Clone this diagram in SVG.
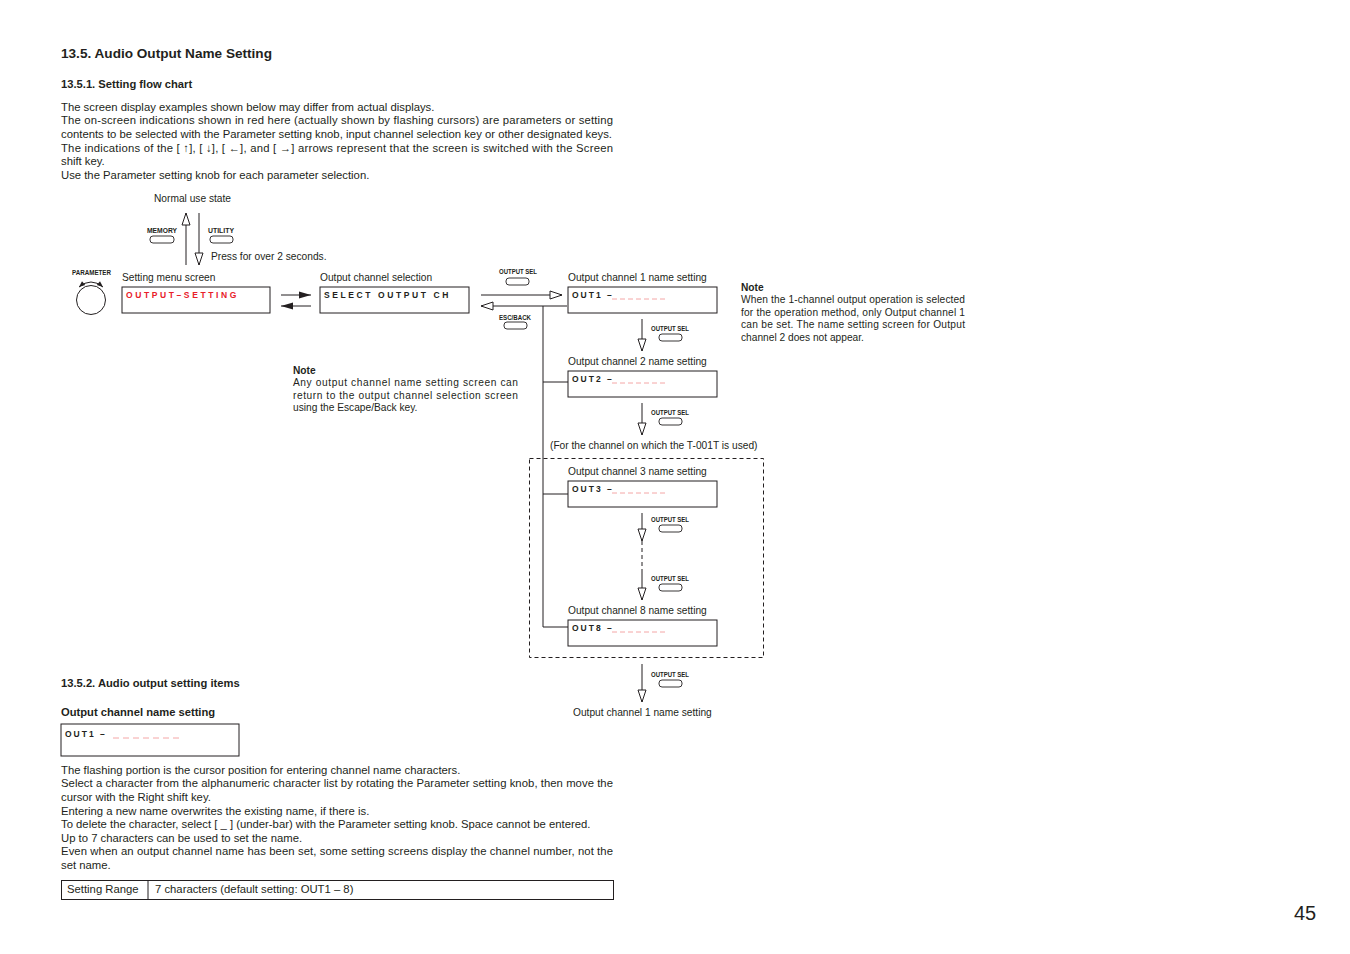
<svg xmlns="http://www.w3.org/2000/svg" width="1350" height="954" viewBox="0 0 1350 954">
<style>
text{font-family:"Liberation Sans",Arial,sans-serif;fill:#231f20}
.h1{font-size:13.6px;font-weight:bold}
.h2{font-size:11.2px;font-weight:bold}
.b{font-size:11.3px}
.s{font-size:10.2px}
.k{font-size:6.5px;font-weight:bold}
.lcd{font-size:8.5px;font-weight:bold;letter-spacing:2.6px}
.red{fill:#e8202a}
.dash{stroke:#f4a6a6;stroke-width:1;stroke-dasharray:5,3}
.box{fill:none;stroke:#231f20;stroke-width:1}
.btn{fill:#fff;stroke:#231f20;stroke-width:0.9}
.ln{fill:none;stroke:#231f20;stroke-width:1}
</style>
<defs>
<marker id="hollow" markerUnits="userSpaceOnUse" markerWidth="14" markerHeight="10" refX="12" refY="4" orient="auto" overflow="visible"><path d="M0,0 L12,4 L0,8 Z" fill="#fff" stroke="#231f20" stroke-width="1"/></marker>
<marker id="solid" markerUnits="userSpaceOnUse" markerWidth="14" markerHeight="10" refX="12" refY="3.5" orient="auto" overflow="visible"><path d="M0,0 L12,3.5 L0,7 Z" fill="#231f20"/></marker>
<marker id="small" markerUnits="userSpaceOnUse" markerWidth="8" markerHeight="6" refX="6" refY="2.5" orient="auto" overflow="visible"><path d="M0,0 L6,2.5 L0,5 Z" fill="#231f20"/></marker>
<marker id="smallS" markerUnits="userSpaceOnUse" markerWidth="8" markerHeight="6" refX="0" refY="2.5" orient="auto" overflow="visible"><path d="M6,0 L0,2.5 L6,5 Z" fill="#231f20"/></marker>
</defs>
<rect width="1350" height="954" fill="#fff"/>

<g id="header">
<text class="h1" x="61" y="58">13.5. Audio Output Name Setting</text>
<text class="h2" x="61" y="88">13.5.1. Setting flow chart</text>
<text class="b" x="61" y="111">The screen display examples shown below may differ from actual displays.</text>
<text class="b" x="61" y="124" textLength="552" lengthAdjust="spacing">The on-screen indications shown in red here (actually shown by flashing cursors) are parameters or setting</text>
<text class="b" x="61" y="138" textLength="551" lengthAdjust="spacing">contents to be selected with the Parameter setting knob, input channel selection key or other designated keys.</text>
<text class="b" x="61" y="152" textLength="552" lengthAdjust="spacing">The indications of the [ ↑], [ ↓], [ ←], and [ →] arrows represent that the screen is switched with the Screen</text>
<text class="b" x="61" y="165">shift key.</text>
<text class="b" x="61" y="179">Use the Parameter setting knob for each parameter selection.</text>
</g>

<g id="normal-state">
<text class="s" x="154" y="202">Normal use state</text>
<text class="k" x="147" y="233" textLength="30" lengthAdjust="spacingAndGlyphs">MEMORY</text>
<rect class="btn" x="150" y="236" width="24" height="7" rx="3"/>
<text class="k" x="208" y="233" textLength="26" lengthAdjust="spacingAndGlyphs">UTILITY</text>
<rect class="btn" x="210" y="236" width="23" height="7" rx="3"/>
<text class="s" x="211" y="260">Press for over 2 seconds.</text>
</g>

<g id="parameter-knob">
<text class="k" x="72" y="275" textLength="39" lengthAdjust="spacingAndGlyphs">PARAMETER</text>
<circle cx="91" cy="300" r="14.5" fill="#fff" stroke="#231f20" stroke-width="1"/>
<path class="ln" d="M79,287 Q91,277 103,287" marker-end="url(#small)" marker-start="url(#smallS)"/>
</g>

<g id="setting-menu">
<text class="s" x="122" y="281">Setting menu screen</text>
<rect class="box" x="122" y="287" width="148" height="26"/>
<text class="lcd red" x="126" y="298">OUTPUT–SETTING</text>
</g>

<g id="channel-select">
<text class="s" x="320" y="281">Output channel selection</text>
<rect class="box" x="320" y="287" width="149" height="26"/>
<text class="lcd" x="324" y="298">SELECT  OUTPUT  CH</text>
</g>

<g id="keys-mid">
<text class="k" x="499" y="274" textLength="38" lengthAdjust="spacingAndGlyphs">OUTPUT SEL</text>
<rect class="btn" x="506" y="278" width="23" height="7" rx="3"/>
<text class="k" x="499" y="320" textLength="32" lengthAdjust="spacingAndGlyphs">ESC/BACK</text>
<rect class="btn" x="504" y="322" width="23" height="7" rx="3"/>
</g>

<g id="out1">
<text class="s" x="568" y="281">Output channel 1 name setting</text>
<rect class="box" x="568" y="287" width="149" height="26"/>
<text class="lcd" x="572" y="298" style="letter-spacing:2px">OUT1 –</text>
<line class="dash" x1="612" y1="299" x2="665" y2="299"/>
</g>

<g id="out2">
<text class="s" x="568" y="365">Output channel 2 name setting</text>
<rect class="box" x="568" y="371" width="149" height="26"/>
<text class="lcd" x="572" y="382" style="letter-spacing:2px">OUT2 –</text>
<line class="dash" x1="612" y1="383" x2="665" y2="383"/>
</g>

<g id="t001t-group">
<text class="s" x="550" y="449">(For the channel on which the T-001T is used)</text>
<rect x="529.5" y="458.5" width="234" height="199" fill="none" stroke="#231f20" stroke-width="1" stroke-dasharray="4,3"/>
</g>

<g id="out3">
<text class="s" x="568" y="475">Output channel 3 name setting</text>
<rect class="box" x="568" y="481" width="149" height="26"/>
<text class="lcd" x="572" y="492" style="letter-spacing:2px">OUT3 –</text>
<line class="dash" x1="612" y1="493" x2="665" y2="493"/>
</g>

<g id="out8">
<text class="s" x="568" y="614">Output channel 8 name setting</text>
<rect class="box" x="568" y="620" width="149" height="26"/>
<text class="lcd" x="572" y="631" style="letter-spacing:2px">OUT8 –</text>
<line class="dash" x1="612" y1="632" x2="665" y2="632"/>
</g>

<g id="out1-return">
<text class="s" x="573" y="716">Output channel 1 name setting</text>
</g>

<g id="sel-keys">
<text class="k" x="651" y="331" textLength="38" lengthAdjust="spacingAndGlyphs">OUTPUT SEL</text>
<rect class="btn" x="659" y="334" width="23" height="7" rx="3"/>
<text class="k" x="651" y="415" textLength="38" lengthAdjust="spacingAndGlyphs">OUTPUT SEL</text>
<rect class="btn" x="659" y="418" width="23" height="7" rx="3"/>
<text class="k" x="651" y="522" textLength="38" lengthAdjust="spacingAndGlyphs">OUTPUT SEL</text>
<rect class="btn" x="659" y="525" width="23" height="7" rx="3"/>
<text class="k" x="651" y="581" textLength="38" lengthAdjust="spacingAndGlyphs">OUTPUT SEL</text>
<rect class="btn" x="659" y="584" width="23" height="7" rx="3"/>
<text class="k" x="651" y="677" textLength="38" lengthAdjust="spacingAndGlyphs">OUTPUT SEL</text>
<rect class="btn" x="659" y="680" width="23" height="7" rx="3"/>
</g>

<g id="connectors">
<line class="ln" x1="186" y1="265" x2="186" y2="213" marker-end="url(#hollow)"/>
<line class="ln" x1="199" y1="213" x2="199" y2="265" marker-end="url(#hollow)"/>
<line class="ln" x1="281" y1="295" x2="311" y2="295" marker-end="url(#solid)"/>
<line class="ln" x1="311" y1="306" x2="281" y2="306" marker-end="url(#solid)"/>
<line class="ln" x1="481" y1="295" x2="562" y2="295" marker-end="url(#hollow)"/>
<line class="ln" x1="567" y1="306" x2="481" y2="306" marker-end="url(#hollow)"/>
<polyline class="ln" points="543,306 543,627 568,627"/>
<line class="ln" x1="543" y1="382" x2="568" y2="382"/>
<line class="ln" x1="543" y1="494" x2="568" y2="494"/>
<line class="ln" x1="642" y1="319" x2="642" y2="351" marker-end="url(#hollow)"/>
<line class="ln" x1="642" y1="403" x2="642" y2="435" marker-end="url(#hollow)"/>
<line class="ln" x1="642" y1="513" x2="642" y2="541" marker-end="url(#hollow)"/>
<line class="ln" x1="642" y1="541" x2="642" y2="570" stroke-dasharray="4,3"/>
<line class="ln" x1="642" y1="570" x2="642" y2="600" marker-end="url(#hollow)"/>
<line class="ln" x1="642" y1="664" x2="642" y2="702" marker-end="url(#hollow)"/>
</g>

<g id="note-center">
<text class="h2" x="293" y="374" style="font-size:10.2px">Note</text>
<text class="s" x="293" y="386" textLength="225" lengthAdjust="spacing">Any output channel name setting screen can</text>
<text class="s" x="293" y="399" textLength="225" lengthAdjust="spacing">return to the output channel selection screen</text>
<text class="s" x="293" y="411">using the Escape/Back key.</text>
</g>

<g id="note-right">
<text class="h2" x="741" y="291" style="font-size:10.2px">Note</text>
<text class="s" x="741" y="303" textLength="224" lengthAdjust="spacing">When the 1-channel output operation is selected</text>
<text class="s" x="741" y="316" textLength="224" lengthAdjust="spacing">for the operation method, only Output channel 1</text>
<text class="s" x="741" y="328" textLength="224" lengthAdjust="spacing">can be set. The name setting screen for Output</text>
<text class="s" x="741" y="341">channel 2 does not appear.</text>
</g>

<g id="items">
<text class="h2" x="61" y="687">13.5.2. Audio output setting items</text>
<text class="h2" x="61" y="716">Output channel name setting</text>
<rect class="box" x="61" y="724" width="178" height="32"/>
<text class="lcd" x="65" y="737" style="letter-spacing:2px">OUT1 –</text>
<line class="dash" x1="113" y1="738" x2="179" y2="738" style="stroke-dasharray:6,4"/>
<text class="b" x="61" y="774">The flashing portion is the cursor position for entering channel name characters.</text>
<text class="b" x="61" y="787" textLength="552" lengthAdjust="spacing">Select a character from the alphanumeric character list by rotating the Parameter setting knob, then move the</text>
<text class="b" x="61" y="801">cursor with the Right shift key.</text>
<text class="b" x="61" y="815">Entering a new name overwrites the existing name, if there is.</text>
<text class="b" x="61" y="828">To delete the character, select [ _ ] (under-bar) with the Parameter setting knob. Space cannot be entered.</text>
<text class="b" x="61" y="842">Up to 7 characters can be used to set the name.</text>
<text class="b" x="61" y="855" textLength="552" lengthAdjust="spacing">Even when an output channel name has been set, some setting screens display the channel number, not the</text>
<text class="b" x="61" y="869">set name.</text>
</g>

<g id="range-table">
<rect class="box" x="61.5" y="880.5" width="552" height="19"/>
<line class="ln" x1="148" y1="880.5" x2="148" y2="899.5"/>
<text class="b" x="67" y="893">Setting Range</text>
<text class="b" x="155" y="893">7 characters (default setting: OUT1 – 8)</text>
</g>

<g id="page-number">
<text x="1294" y="920" style="font-size:20px">45</text>
</g>
</svg>
